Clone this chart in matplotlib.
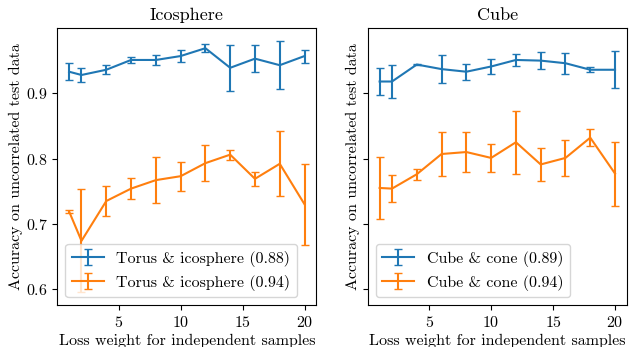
"""Accuracy vs. loss weight for independent samples, two shapes side by side."""
import matplotlib
matplotlib.use("Agg")
import matplotlib.pyplot as plt

plt.rcParams["font.family"] = "serif"
plt.rcParams["font.serif"] = ["cmr10"]
plt.rcParams["mathtext.fontset"] = "cm"
plt.rcParams["axes.formatter.use_mathtext"] = True
plt.rcParams["font.size"] = 11.5
plt.rcParams["axes.unicode_minus"] = False

# loss weight values (x axis)
weights = [1, 2, 4, 6, 8, 10, 12, 14, 16, 18, 20]

# Icosphere panel
ico_lo_mean = [0.933, 0.928, 0.936, 0.951, 0.951, 0.957, 0.969, 0.939, 0.953, 0.943, 0.957]
ico_lo_err = [0.013, 0.010, 0.007, 0.005, 0.008, 0.009, 0.006, 0.035, 0.021, 0.037, 0.010]
ico_hi_mean = [0.719, 0.674, 0.735, 0.754, 0.767, 0.773, 0.793, 0.806, 0.769, 0.792, 0.730]
ico_hi_err = [0.003, 0.079, 0.023, 0.016, 0.035, 0.022, 0.028, 0.0075, 0.011, 0.050, 0.062]

# Cube panel
cube_lo_mean = [0.918, 0.918, 0.944, 0.937, 0.933, 0.941, 0.951, 0.950, 0.946, 0.936, 0.936]
cube_lo_err = [0.021, 0.025, 0.001, 0.021, 0.012, 0.012, 0.009, 0.013, 0.016, 0.004, 0.028]
cube_hi_mean = [0.755, 0.754, 0.776, 0.807, 0.810, 0.801, 0.825, 0.791, 0.801, 0.832, 0.777]
cube_hi_err = [0.047, 0.021, 0.0085, 0.033, 0.030, 0.022, 0.048, 0.025, 0.027, 0.013, 0.049]

titles = ["Icosphere", "Cube"]
labels = [
    ["Torus & icosphere (0.88)", "Torus & icosphere (0.94)"],
    ["Cube & cone (0.89)", "Cube & cone (0.94)"],
]
panels = [
    [(ico_lo_mean, ico_lo_err), (ico_hi_mean, ico_hi_err)],
    [(cube_lo_mean, cube_lo_err), (cube_hi_mean, cube_hi_err)],
]
y_ticks = [0.6, 0.7, 0.8, 0.9]
x_ticks = [5, 10, 15, 20]

fig, axs = plt.subplots(1, 2, figsize=(6.37, 3.47), dpi=100, sharey=True)
fig.subplots_adjust(left=0.09, right=0.984, bottom=0.121, top=0.918, wspace=0.199)

for ax, title, series, names in zip(axs, titles, panels, labels):
    for (mean, err), name in zip(series, names):
        ax.errorbar(weights, mean, yerr=err, capsize=3, label=name)
    ax.set_title(title, fontsize=13)
    ax.set_xlabel("Loss weight for independent samples", labelpad=3)
    ax.set_ylabel("Accuracy on uncorrelated test data", labelpad=2)
    ax.set_xticks(x_ticks)
    ax.set_yticks(y_ticks)
    ax.legend(loc="lower left")

axs[1].tick_params(labelleft=False)

plt.savefig("out.png")
